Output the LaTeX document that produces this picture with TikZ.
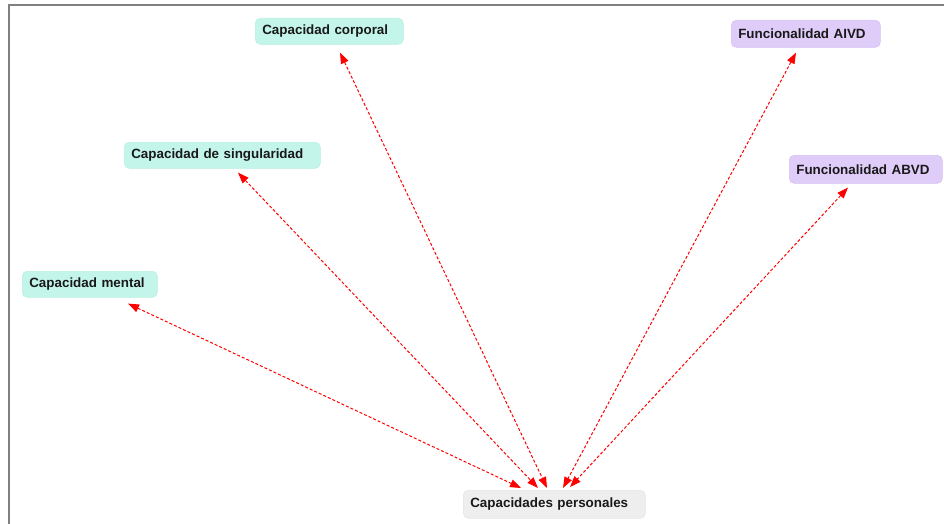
\documentclass[tikz,border=0pt]{standalone}
\usepackage{fontspec}
\setmainfont{Liberation Sans}
\usetikzlibrary{arrows.meta,calc}
\definecolor{tealfill}{HTML}{C4F5EA}
\definecolor{tealline}{HTML}{B8F0E2}
\definecolor{purpfill}{HTML}{E0CCF8}
\definecolor{purpline}{HTML}{D6C0F4}
\definecolor{grayfill}{HTML}{EEEEEE}
\definecolor{grayline}{HTML}{E6E6E6}
\definecolor{arrred}{HTML}{FF0000}
\begin{document}
\begin{tikzpicture}[x=1pt,y=-1pt,
  box/.style={anchor=north west, rounded corners=5pt, inner xsep=7pt, inner ysep=0pt,
    align=left, font=\fontsize{13.4}{15}\selectfont\bfseries, text=black!90, line width=0.6pt},
  capbox/.style={box, fill=tealfill, draw=tealline},
  funbox/.style={box, fill=purpfill, draw=purpline},
  perbox/.style={box, fill=grayfill, draw=grayline},
  conn/.style={draw=arrred, line width=1pt, dash pattern=on 3pt off 2pt,
    {Triangle[length=11pt,width=8pt,fill=arrred]}-{Triangle[length=11pt,width=8pt,fill=arrred]}}
]
\useasboundingbox (0,0) rectangle (944,524);
\fill[white] (0,0) rectangle (944,524);
\draw[draw=gray, line width=2pt] (9,525) -- (9,5) -- (945,5);

\node[capbox, text width=134pt, minimum height=26pt] (cor) at (255,18) {Capacidad corporal};
\node[funbox, text width=135pt, minimum height=27pt] (aivd) at (731,20) {Funcionalidad AIVD};
\node[capbox, text width=182pt, minimum height=26pt] (sin) at (124,142) {Capacidad de singularidad};
\node[funbox, text width=139pt, minimum height=28pt] (abvd) at (789,155) {Funcionalidad ABVD};
\node[capbox, text width=121pt, minimum height=26pt] (men) at (22,271) {Capacidad mental};
\node[perbox, text width=168pt, minimum height=28pt] (per) at (463,490) {Capacidades personales};

\draw[conn] ($(men.south west)+(106,6)$) -- ($(per.north west)+(58,-2)$);
\draw[conn] ($(sin.south west)+(114,4)$) -- ($(per.north west)+(75,-2)$);
\draw[conn] ($(cor.south west)+(85,8)$) -- ($(per.north west)+(84,-2)$);
\draw[conn] ($(aivd.south west)+(65,5)$) -- ($(per.north west)+(100,-2)$);
\draw[conn] ($(abvd.south west)+(59,4)$) -- ($(per.north west)+(107,-3)$);
\end{tikzpicture}
\end{document}
